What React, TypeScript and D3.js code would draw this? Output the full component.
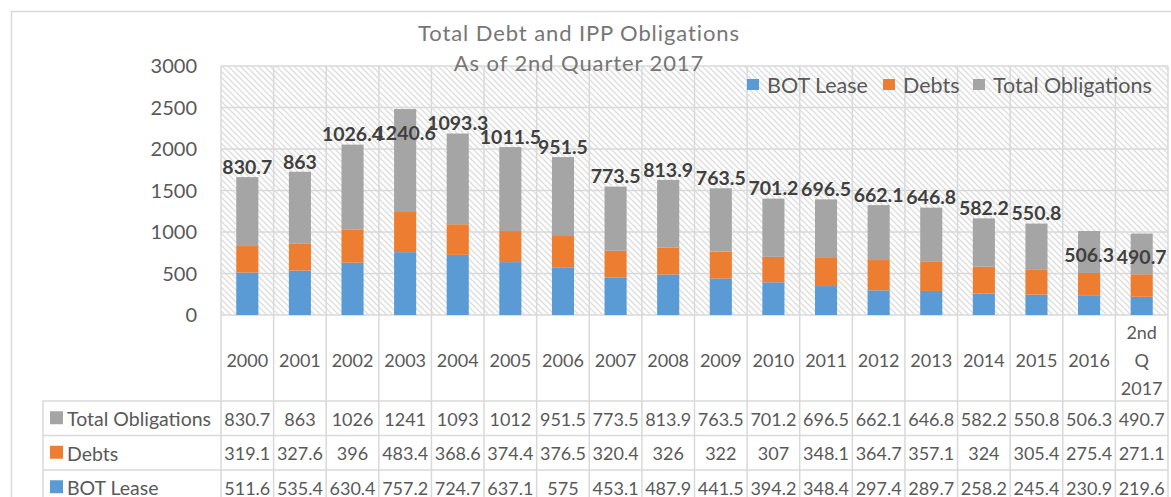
import React from 'react'
import * as d3 from 'd3'

// values (table rows + data labels)
const categories = ['2000', '2001', '2002', '2003', '2004', '2005', '2006', '2007', '2008', '2009',
  '2010', '2011', '2012', '2013', '2014', '2015', '2016', '2nd Q 2017']
const botLease = [511.6, 535.4, 630.4, 757.2, 724.7, 637.1, 575, 453.1, 487.9, 441.5,
  394.2, 348.4, 297.4, 289.7, 258.2, 245.4, 230.9, 219.6]
const debts = [319.1, 327.6, 396, 483.4, 368.6, 374.4, 376.5, 320.4, 326, 322,
  307, 348.1, 364.7, 357.1, 324, 305.4, 275.4, 271.1]
const totalObligations = [830.7, 863, 1026.4, 1240.6, 1093.3, 1011.5, 951.5, 773.5, 813.9, 763.5,
  701.2, 696.5, 662.1, 646.8, 582.2, 550.8, 506.3, 490.7]
const yTicks = [0, 500, 1000, 1500, 2000, 2500, 3000]
// labels that sit inside the top of the bar instead of above it
const insideLabels = ['2003', '2016', '2nd Q 2017']

const series = [
  { key: 'bot', name: 'BOT Lease', color: '#5B9BD5', values: botLease },
  { key: 'debt', name: 'Debts', color: '#ED7D31', values: debts },
  { key: 'total', name: 'Total Obligations', color: '#A5A5A5', values: totalObligations }
]

const FONT = 'Lato, "Open Sans", sans-serif'
const TEXT = '#595959'
const GRID = '#D9D9D9'

function fmtTable (v: number) {
  return v >= 1000 ? String(Math.round(v)) : String(v)
}

export default function App () {
  const width = 1171
  const height = 497
  const plotLeft = 221
  const plotRight = 1168
  const plotTop = 66
  const plotBottom = 315
  const tableTop = 401
  const rowH = 34.5

  const rows = categories.map((c, i) => ({
    cat: c, bot: botLease[i], debt: debts[i], total: totalObligations[i]
  }))
  const stacked = d3.stack<any>().keys(['bot', 'debt', 'total'])(rows)

  const x = d3.scaleBand().domain(categories).range([plotLeft, plotRight]).padding(0)
  const y = d3.scaleLinear().domain([0, 3000]).range([plotBottom, plotTop])
  const bw = x.bandwidth() * 0.42

  const boundaries = categories.map(c => x(c)!).concat([plotRight])
  const tableRows = [series[2], series[1], series[0]]
  const legendItems = [
    { s: series[0], x: 747 },
    { s: series[1], x: 883 },
    { s: series[2], x: 973 }
  ]

  return (
    <div style={{ position: 'absolute', left: 0, top: 0 }}>
      <svg width={width} height={height} style={{ display: 'block', background: '#fff' }} fontFamily={FONT}>
        <defs>
          <pattern id='hatch' patternUnits='userSpaceOnUse' width={6} height={6}>
            <rect width={6} height={6} fill='#fff' />
            <path d='M-1,-1 L7,7 M-1,5 L1,7 M5,-1 L7,1' stroke='#DEDEDE' strokeWidth={1.4} />
          </pattern>
        </defs>

        {/* chart frame */}
        <rect x={11.5} y={11.5} width={width + 20} height={height + 20} fill='none' stroke={GRID} strokeWidth={1.5} />

        {/* plot area */}
        <rect x={plotLeft} y={plotTop} width={plotRight - plotLeft} height={plotBottom - plotTop} fill='url(#hatch)' />
        {yTicks.map(t => (
          <line key={'h' + t} x1={plotLeft} x2={plotRight} y1={y(t)} y2={y(t)} stroke={GRID} strokeWidth={1.5} />
        ))}
        {boundaries.map((bx, i) => (
          <line key={'v' + i} x1={bx} x2={bx} y1={plotTop} y2={height + 10} stroke={GRID} strokeWidth={1.5} />
        ))}
        {yTicks.map(t => (
          <text key={'yt' + t} x={197} y={y(t)} dy='0.35em' textAnchor='end' fontSize={20} fill={TEXT}>{t}</text>
        ))}

        {/* title */}
        <text x={579} y={41} textAnchor='middle' fontSize={22} letterSpacing={0.9} fill='#767676'>Total Debt and IPP Obligations</text>
        <text x={579} y={71} textAnchor='middle' fontSize={22} letterSpacing={0.9} fill='#767676'>As of 2nd Quarter 2017</text>

        {/* bars */}
        {stacked.map((s, si) => (
          <g key={s.key} fill={series[si].color}>
            {s.map((d, i) => (
              <rect key={i} x={x(categories[i])! + (x.bandwidth() - bw) / 2} width={bw}
                y={y(d[1])} height={y(d[0]) - y(d[1])} />
            ))}
          </g>
        ))}

        {/* data labels on total */}
        {stacked[2].map((d, i) => {
          const inside = insideLabels.includes(categories[i])
          return (
            <text key={'dl' + i} x={x(categories[i])! + x.bandwidth() / 2} y={y(d[1]) + (inside ? 24 : -10)}
              dy='0.35em' textAnchor='middle' fontSize={19.5} fontWeight='bold' fill='#404040'>
              {totalObligations[i]}
            </text>
          )
        })}

        {/* legend */}
        {legendItems.map(it => (
          <g key={it.s.key}>
            <rect x={it.x} y={79} width={12} height={11} fill={it.s.color} />
            <text x={it.x + 20} y={85} dy='0.35em' fontSize={21.5} fill={TEXT}>{it.s.name}</text>
          </g>
        ))}

        {/* category labels */}
        {categories.map(c => {
          const parts = c.split(' ')
          const cx = x(c)! + x.bandwidth() / 2
          return (
            <text key={'c' + c} x={cx} y={361 - (parts.length - 1) * 14} textAnchor='middle' fontSize={18} fill={TEXT}>
              {parts.map((p, k) => (
                <tspan key={k} x={cx} dy={k === 0 ? '0.35em' : 28}>{p}</tspan>
              ))}
            </text>
          )
        })}

        {/* data table */}
        {[0, 1, 2, 3].map(k => (
          <line key={'tr' + k} x1={43} x2={plotRight} y1={tableTop + k * rowH} y2={tableTop + k * rowH} stroke={GRID} strokeWidth={1.5} />
        ))}
        <line x1={43} x2={43} y1={tableTop} y2={height + 10} stroke={GRID} strokeWidth={1.5} />
        {tableRows.map((s, r) => {
          const cy = tableTop + rowH * r + rowH / 2 + 1
          return (
            <g key={'row' + s.key}>
              <rect x={50} y={cy - 8} width={13} height={13} fill={s.color} />
              <text x={67} y={cy} dy='0.35em' fontSize={19.5} fill={TEXT}>{s.name}</text>
              {s.values.map((v, i) => (
                <text key={i} x={x(categories[i])! + x.bandwidth() / 2} y={cy} dy='0.35em'
                  textAnchor='middle' fontSize={18} fill={TEXT}>{fmtTable(v)}</text>
              ))}
            </g>
          )
        })}
      </svg>
    </div>
  )
}
